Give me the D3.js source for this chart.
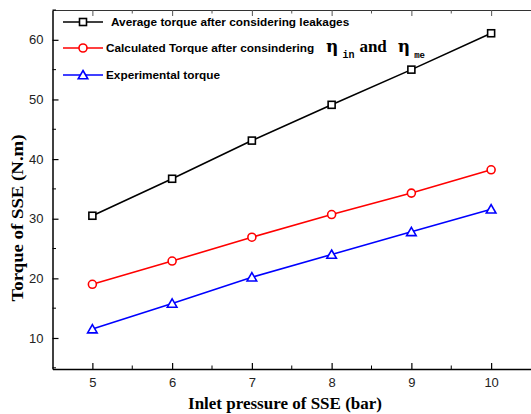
<!DOCTYPE html>
<html>
<head>
<meta charset="utf-8">
<script src="https://cdn.jsdelivr.net/npm/d3@7"></script>
<style>
  body { margin: 0; background: #fff; }
  svg { display: block; }
  .tick text { font-family: Arial, "Liberation Sans", sans-serif; font-size: 13px; fill: #222; }
  .legend text { font-family: Arial, "Liberation Sans", sans-serif; font-size: 11.8px; font-weight: bold; }
  .label { font-family: "Times New Roman", "Liberation Serif", serif; font-weight: bold; }
</style>
</head>
<body>
<div id="chart"></div>
<script>
// data
var pressure = [5, 6, 7, 8, 9, 10];
var avgTorque = [30.5, 36.7, 43.1, 49.1, 55.0, 61.1];
var calcTorque = [19.0, 22.9, 26.9, 30.7, 34.3, 38.2];
var expTorque = [11.5, 15.8, 20.2, 24.0, 27.8, 31.6];
var xTicks = [5, 6, 7, 8, 9, 10];
var yTicks = [10, 20, 30, 40, 50, 60];
var seriesNames = ["Average torque after considering leakages",
                   "Calculated Torque after consindering",
                   "Experimental torque"];

var width = 531, height = 414;

var x = d3.scaleLinear().domain([4.5, 10.5]).range([52.5, 531]);
var y = d3.scaleLinear().domain([4.8, 65]).range([369, 10]);

var svg = d3.select("#chart").append("svg")
    .attr("width", width)
    .attr("height", height);

// minor ticks
var xMinor = d3.range(5.5, 10.5, 1);
var yMinor = d3.range(5, 66, 10);

// bottom axis, ticks pointing inward
var xAxis = svg.append("g")
    .attr("transform", "translate(0," + y.range()[0] + ")")
    .call(d3.axisBottom(x).tickValues(xTicks).tickSize(-6).tickSizeOuter(0).tickPadding(9).tickFormat(d3.format("d")));
xAxis.selectAll(".tick line").attr("stroke", "#000").attr("stroke-width", 1.2);
xAxis.select(".domain").attr("stroke", "#000").attr("stroke-width", 1.5);
xAxis.selectAll(".minor").data(xMinor).enter().append("line")
    .attr("x1", function(d) { return x(d); })
    .attr("x2", function(d) { return x(d); })
    .attr("y1", 0).attr("y2", -3.5)
    .attr("stroke", "#000");

// top axis
var xTop = svg.append("g")
    .attr("transform", "translate(0," + y.range()[1] + ")")
    .call(d3.axisTop(x).tickValues(xTicks).tickSize(-6).tickSizeOuter(0).tickFormat(""));
xTop.selectAll(".tick line").attr("stroke", "#555");
xTop.select(".domain").attr("stroke", "#333").attr("stroke-width", 1);
xTop.selectAll(".minor").data(xMinor).enter().append("line")
    .attr("x1", function(d) { return x(d); })
    .attr("x2", function(d) { return x(d); })
    .attr("y1", 0).attr("y2", 3.5)
    .attr("stroke", "#555");

// left axis
var yAxis = svg.append("g")
    .attr("transform", "translate(" + x.range()[0] + ",0)")
    .call(d3.axisLeft(y).tickValues(yTicks).tickSize(-6).tickSizeOuter(0).tickPadding(9).tickFormat(d3.format("d")));
yAxis.selectAll(".tick line").attr("stroke", "#000").attr("stroke-width", 1.2);
yAxis.select(".domain").attr("stroke", "#000").attr("stroke-width", 1.5);
yAxis.selectAll(".minor").data(yMinor).enter().append("line")
    .attr("y1", function(d) { return y(d); })
    .attr("y2", function(d) { return y(d); })
    .attr("x1", 0).attr("x2", 3.5)
    .attr("stroke", "#000");

// axis labels
svg.append("text")
    .attr("class", "label")
    .attr("x", 285)
    .attr("y", 409)
    .attr("text-anchor", "middle")
    .style("font-size", "17px")
    .text("Inlet pressure of SSE (bar)");

svg.append("text")
    .attr("class", "label")
    .attr("transform", "translate(23,218) rotate(-90)")
    .attr("text-anchor", "middle")
    .style("font-size", "16px")
    .attr("textLength", 167)
    .attr("lengthAdjust", "spacingAndGlyphs")
    .text("Torque of SSE (N.m)");

var series = [
    {name: seriesNames[0], values: avgTorque, color: "#000", shape: "square"},
    {name: seriesNames[1], values: calcTorque, color: "#ff0000", shape: "circle"},
    {name: seriesNames[2], values: expTorque, color: "#0000ff", shape: "triangle"}
];

var line = d3.line()
    .x(function(d, i) { return x(pressure[i]); })
    .y(function(d) { return y(d); });

function drawMarker(g, shape, color, cx, cy) {
    if (shape == "square") {
        g.append("rect")
            .attr("x", cx - 3.5).attr("y", cy - 3.5)
            .attr("width", 7).attr("height", 7)
            .attr("fill", "#fff").attr("stroke", color).attr("stroke-width", 1.6);
    }
    else if (shape == "circle") {
        g.append("circle")
            .attr("cx", cx).attr("cy", cy).attr("r", 4)
            .attr("fill", "#fff").attr("stroke", color).attr("stroke-width", 1.6);
    }
    else {
        g.append("path")
            .attr("d", "M" + cx + "," + (cy - 4.5) + "L" + (cx + 4.8) + "," + (cy + 3.8) + "L" + (cx - 4.8) + "," + (cy + 3.8) + "Z")
            .attr("fill", "#fff").attr("stroke", color).attr("stroke-width", 1.6);
    }
}

series.forEach(function(s) {
    svg.append("path")
        .datum(s.values)
        .attr("d", line)
        .attr("fill", "none")
        .attr("stroke", s.color)
        .attr("stroke-width", 1.6);
    var g = svg.append("g");
    s.values.forEach(function(v, i) {
        drawMarker(g, s.shape, s.color, x(pressure[i]), y(v));
    });
});

// legend
var legendY = [22, 48, 75];
var legendTextX = [111, 106, 106];
var legend = svg.append("g").attr("class", "legend");
series.forEach(function(s, i) {
    legend.append("line")
        .attr("x1", 63).attr("x2", 103)
        .attr("y1", legendY[i]).attr("y2", legendY[i])
        .attr("stroke", s.color).attr("stroke-width", 1.6);
    drawMarker(legend, s.shape, s.color, 83, legendY[i]);
    legend.append("text")
        .attr("x", legendTextX[i])
        .attr("y", legendY[i] + 4)
        .text(s.name);
});

// efficiency symbols after the second legend entry
var sym = legend.append("text")
    .attr("x", 326)
    .attr("y", 52)
    .style("font-family", "'DejaVu Serif', 'Liberation Serif', serif")
    .style("font-weight", "bold")
    .style("font-size", "17px");
sym.append("tspan").text("η");
sym.append("tspan").attr("dx", 4).attr("dy", 6).style("font-size", "10px").style("font-family", "'Liberation Mono', monospace").text("in");
sym.append("tspan").attr("dx", 5).attr("dy", -6).style("font-family", "'Liberation Serif', serif").style("font-size", "17px").text("and");
sym.append("tspan").attr("dx", 11).text("η");
sym.append("tspan").attr("dx", 4).attr("dy", 6).style("font-size", "9px").style("font-family", "'Liberation Mono', monospace").text("me");
</script>
</body>
</html>
